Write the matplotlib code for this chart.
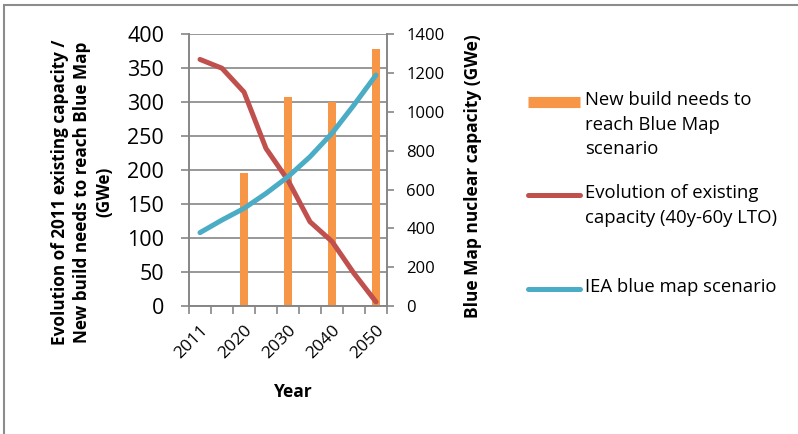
import matplotlib
matplotlib.use("Agg")
import matplotlib.pyplot as plt
from matplotlib.lines import Line2D
from matplotlib.patches import Rectangle

plt.rcParams['font.family'] = ['Open Sans', 'DejaVu Sans']

# data
years = ["2011", "2015", "2020", "2025", "2030", "2035", "2040", "2045", "2050"]
year_labels = ["2011", "", "2020", "", "2030", "", "2040", "", "2050"]
new_build = [None, None, 196, None, 308, None, 300, None, 378]
existing = [363, 350, 315, 232, 185, 124, 95, 48, 6]
blue_map = [378, 443, 503, 580, 666, 769, 890, 1036, 1190]

orange = "#F79646"
red = "#C0504D"
blue = "#4BACC6"
grid = "#868686"

fig = plt.figure(figsize=(7.98, 4.34), dpi=100)
ax = fig.add_axes([189 / 798, 1 - 306 / 434, 198 / 798, (306 - 34.3) / 434])
ax2 = ax.twinx()

x = list(range(len(years)))
bx = [i for i, v in zip(x, new_build) if v is not None]
bv = [v for v in new_build if v is not None]
ax.bar(bx, bv, width=0.4, color=orange, zorder=2)
ax.plot(x, existing, color=red, lw=3.6, solid_capstyle='round', zorder=3)
ax2.plot(x, blue_map, color=blue, lw=3.6, solid_capstyle='round', zorder=3)

ax.set_xlim(-0.5, 8.5)
ax.set_ylim(0, 400)
ax.set_yticks(range(0, 401, 50))
ax2.set_ylim(0, 1400)
ax2.set_yticks(range(0, 1401, 200))
ax.yaxis.grid(True, color=grid, lw=1.2, zorder=0)
ax.set_axisbelow(True)

# tick marks on category boundaries, labels on centres
ax.set_xticks([i - 0.5 for i in range(len(years) + 1)])
ax.set_xticklabels([])
ax.set_xticks(x, minor=True)
ax.set_xticklabels(year_labels, minor=True, rotation=45, ha='right',
                   rotation_mode='anchor', fontsize=12.5)
ax.tick_params(axis='x', which='minor', length=0, pad=12)
ax.tick_params(axis='x', which='major', length=6, width=1.2, color=grid)
ax.tick_params(axis='y', length=6, width=1.2, color=grid, labelsize=15.5, pad=12)
ax2.tick_params(axis='y', length=5, width=1.2, color=grid, labelsize=12, pad=9)

for a in (ax, ax2):
    for s in a.spines.values():
        s.set_color(grid)
        s.set_linewidth(1.2)
    a.spines['top'].set_visible(False)

fig.text(82 / 798, 1 - 192 / 434,
         "Evolution of 2011 existing capacity /\nNew build needs to reach Blue Map\n(GWe)",
         rotation=90, ha='center', va='center', multialignment='center',
         fontsize=12.3, fontweight='bold', linespacing=1.3)
fig.text(473 / 798, 1 - 176 / 434, "Blue Map nuclear capacity (GWe)",
         rotation=90, ha='center', va='center', fontsize=12.5, fontweight='bold')
fig.text(293 / 798, 1 - 392 / 434, "Year", ha='center', va='center',
         fontsize=12.5, fontweight='bold')

# legend
entries = [
    (orange, 8, 102, "New build needs to\nreach Blue Map\nscenario"),
    (red, 3.6, 195, "Evolution of existing\ncapacity (40y-60y LTO)"),
    (blue, 3.6, 289, "IEA blue map scenario"),
]
for col, w, yy, lab in entries:
    yf = 1 - yy / 434
    cap = 'butt' if w > 5 else 'round'
    fig.add_artist(Line2D([528 / 798, 580 / 798], [yf, yf], color=col, lw=w,
                          solid_capstyle=cap))
    fig.text(585 / 798, yf + 11 / 434, lab, ha='left', va='top', fontsize=13.3,
             linespacing=1.48)

# chart border
fig.add_artist(Rectangle((4 / 798, -0.2), 1.2, 1.2 - 5 / 434 + 0.0,
                         transform=fig.transFigure, fill=False,
                         edgecolor="#8c8c8c", lw=1.5))

fig.savefig("out.png", dpi=100)
